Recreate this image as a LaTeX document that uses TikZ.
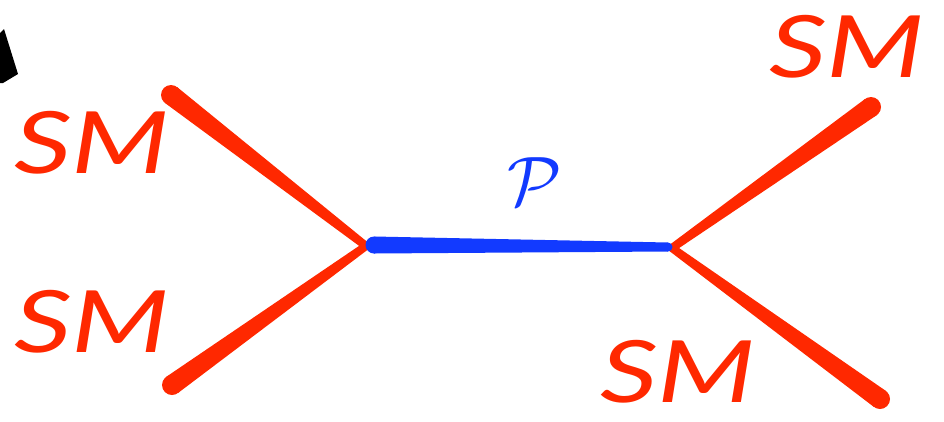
\documentclass[tikz,border=0pt]{standalone}
\usepackage{fontspec}
\setmainfont{Lato}
\usetikzlibrary{calc}
\definecolor{smred}{RGB}{255,40,0}
\definecolor{pblue}{RGB}{18,58,255}
\tikzset{
  smlabel/.style={text=smred, font=\itshape\fontsize{86}{88}\selectfont, xscale=1.32, inner sep=0pt},
  plabel/.style={text=pblue, scale=7, inner sep=0pt},
}
\newcommand{\taper}[5]{% color, from, to, w-from, w-to
  \fill[#1] ($(#2)!#4!90:(#3)$) -- ($(#3)!#5!-90:(#2)$) -- ($(#3)!#5!90:(#2)$) -- ($(#2)!#4!-90:(#3)$) -- cycle;
  \fill[#1] (#2) circle (#4);
  \fill[#1] (#3) circle (#5);
}
\begin{document}
\begin{tikzpicture}[x=1pt,y=-1pt]
\useasboundingbox (0,0) rectangle (944,421);
% corner mark
\fill[black] (0,33) -- (4,29) -- (18,74) -- (3,83) -- (0,83) -- cycle;
% vertices and ends
\coordinate (vl) at (366,246);
\coordinate (vr) at (672,248);
\coordinate (tl) at (171,95);
\coordinate (bl) at (172,385);
\coordinate (tr) at (871,107);
\coordinate (br) at (880,399);
% red legs
\taper{smred}{tl}{vl}{10pt}{4pt}
\taper{smred}{bl}{vl}{10pt}{4pt}
\taper{smred}{tr}{vr}{10pt}{4pt}
\taper{smred}{br}{vr}{10pt}{4pt}
% blue propagator
\coordinate (bs) at (374,245);
\coordinate (be) at (668,247);
\taper{pblue}{bs}{be}{8.5pt}{4.5pt}
% labels
\node[smlabel] (sm1) at (92,143) {SM};
\node[smlabel] (sm2) at (92,322) {SM};
\node[smlabel] (sm3) at (847,47) {SM};
\node[smlabel] (sm4) at (678,372) {SM};
\node[plabel] (p) at (535,182) {$\mathcal{P}$};
\end{tikzpicture}
\end{document}
